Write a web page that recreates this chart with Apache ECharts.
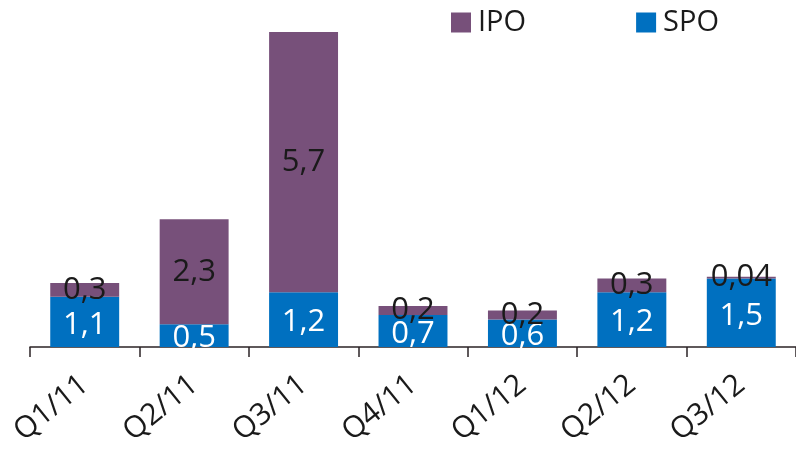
<!DOCTYPE html>
<html>
<head>
<meta charset="utf-8">
<script src="https://cdn.jsdelivr.net/npm/echarts@6/dist/echarts.min.js"></script>
<style>
  html, body { margin: 0; padding: 0; background: #fff; }
  #chart { width: 796px; height: 450px; }
</style>
</head>
<body>
<div id="chart"></div>
<script>
// quarters on the x axis
const quarters = ["Q1/11", "Q2/11", "Q3/11", "Q4/11", "Q1/12", "Q2/12", "Q3/12"];
// secondary offerings (bottom, blue)
const spoValues = [1.1, 0.5, 1.2, 0.7, 0.6, 1.2, 1.5];
// initial offerings (top, purple)
const ipoValues = [0.3, 2.3, 5.7, 0.2, 0.2, 0.3, 0.04];

const FONT = "Open Sans";

// decimal comma like the original
const commaLabel = p => String(p.value).replace(".", ",");

const chart = echarts.init(document.getElementById("chart"));

chart.setOption({
    animation: false,
    textStyle: { fontFamily: FONT },
    legend: {
        data: ["IPO", "SPO"],
        left: 446,
        top: 3,
        itemWidth: 20,
        itemHeight: 20,
        itemGap: 110,
        icon: "rect",
        textStyle: { fontFamily: FONT, fontSize: 29, color: "#1a1a1a", padding: [0, 0, 0, 2] }
    },
    grid: { left: 30, right: 0, top: 32, bottom: 103 },
    xAxis: {
        type: "category",
        data: quarters,
        boundaryGap: true,
        axisLine: { lineStyle: { color: "#2b2326", width: 1.5 } },
        axisTick: { show: true, length: 10, lineStyle: { color: "#2b2326", width: 1.5 } },
        axisLabel: {
            rotate: 39,
            margin: 34,
            fontFamily: FONT,
            fontSize: 30,
            color: "#1a1a1a"
        }
    },
    yAxis: {
        type: "value",
        min: 0,
        max: 6.9,
        show: false,
        splitLine: { show: false }
    },
    series: [
        {
            name: "SPO",
            type: "bar",
            stack: "total",
            barWidth: "63%",
            data: spoValues,
            itemStyle: { color: "#0070C0" },
            label: {
                show: true,
                position: "inside",
                offset: [0, 3],
                formatter: commaLabel,
                fontFamily: FONT,
                fontSize: 31,
                color: "#ffffff"
            }
        },
        {
            name: "IPO",
            type: "bar",
            stack: "total",
            barWidth: "63%",
            data: ipoValues,
            itemStyle: { color: "#77507A" },
            label: {
                show: true,
                position: "inside",
                formatter: commaLabel,
                fontFamily: FONT,
                fontSize: 31,
                color: "#1a1a1a"
            }
        }
    ]
});
</script>
</body>
</html>
